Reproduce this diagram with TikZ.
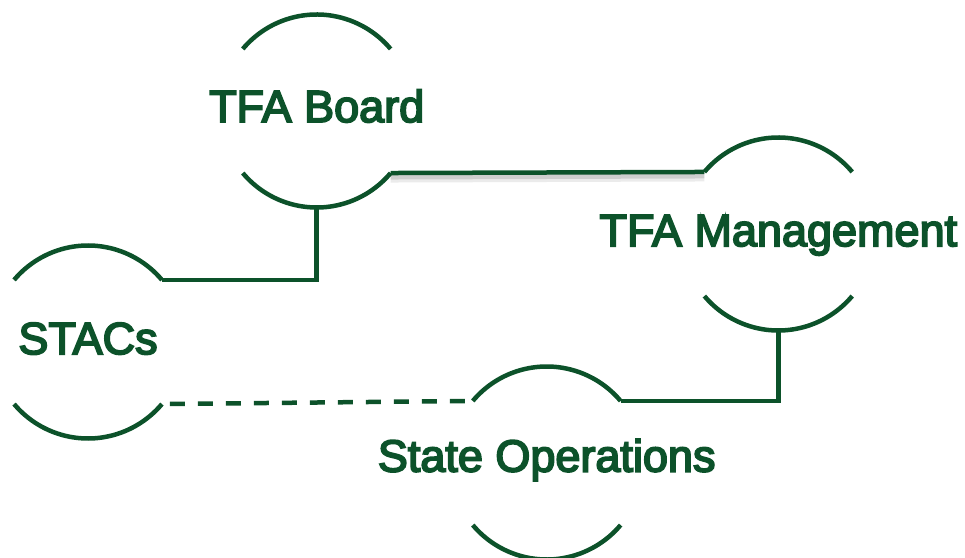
\documentclass[tikz,border=0pt]{standalone}
\usepackage{fontspec}
\newfontfamily\labelfont[FakeBold=4]{Liberation Sans}
\usetikzlibrary{positioning, calc}
\definecolor{tfagreen}{RGB}{12,82,42}
\tikzset{
	ring/.style={circle, minimum size=193pt, inner sep=0pt, outer sep=0pt},
	ringarc/.style={line width=4.5pt, color=tfagreen},
	link/.style={line width=4.5pt, color=tfagreen},
	shadowed/.style={preaction={draw=black, opacity=0.08, line width=9pt, transform canvas={yshift=-5pt}},
		preaction={draw=black, opacity=0.12, line width=5pt, transform canvas={yshift=-4pt}}},
	caption/.style={font=\labelfont\fontsize{45}{54}\selectfont, text=tfagreen, inner sep=0pt, text height=32.2pt, text depth=0pt}
}

\begin{document}
\begin{tikzpicture}[x=1pt, y=1pt]
		\useasboundingbox (0,0) rectangle (965,557);
		\node[ring] (board) at (316.7,446) {};
		\node[ring] (stacs) at (88,215) {};
		\node[ring] (mgmt) at (778.3,323) {};
		\node[ring] (ops) at (546.7,94) {};
		\foreach \n in {board, stacs, mgmt, ops} {
			\draw[ringarc] (\n.140) arc[start angle=140, end angle=40, radius=96.5pt];
			\draw[ringarc] (\n.220) arc[start angle=220, end angle=320, radius=96.5pt];
		}
		\node[caption] (board-text) at ([yshift=5pt]board.center) {TFA Board};
		\node[caption] (stacs-text) at ([yshift=4pt]stacs.center) {STACs};
		\node[caption] (mgmt-text) at ([yshift=4pt]mgmt.center) {TFA Management};
		\node[caption] (ops-text) at ([yshift=7.5pt]ops.center) {State Operations};
		\draw[link] (board.south) |- (stacs.40);
		\draw[link, shadowed] (board.320) -- (mgmt.140);
		\draw[link] (mgmt.south) |- (ops.40);
		\draw[link, dash pattern=on 15pt off 13pt, dash phase=20pt] (stacs.320) -- (ops.140);
	\end{tikzpicture}
\end{document}
